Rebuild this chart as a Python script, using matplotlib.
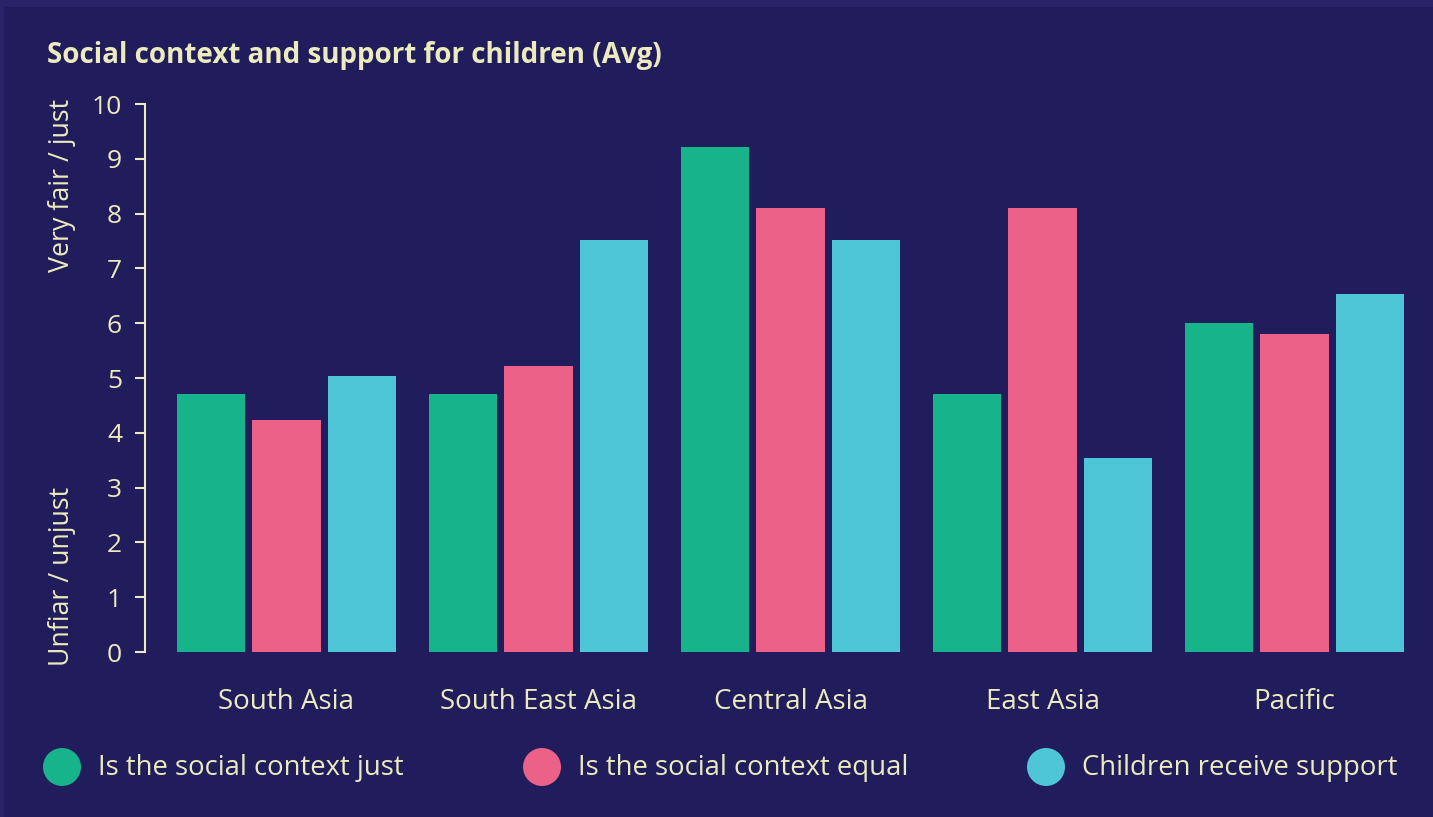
import numpy as np
import matplotlib
matplotlib.use("Agg")
import matplotlib.pyplot as plt
from matplotlib.patches import Rectangle, Ellipse

# data
regions = ["South Asia", "South East Asia", "Central Asia", "East Asia", "Pacific"]
social_just = [4.7, 4.7, 9.22, 4.7, 6.0]
social_equal = [4.23, 5.22, 8.1, 8.1, 5.8]
child_support = [5.04, 7.52, 7.52, 3.54, 6.53]
series_names = ["Is the social context just", "Is the social context equal", "Children receive support"]
y_ticks = list(range(0, 11))

bg = "#211c5c"
frame = "#29246a"
txt = "#ecebbd"
colors = ["#17b48c", "#ec6188", "#4fc6d8"]

plt.rcParams["font.family"] = ["Open Sans", "DejaVu Sans"]

W, H = 1433, 817
fig = plt.figure(figsize=(W / 100, H / 100), dpi=100)
fig.patch.set_facecolor(frame)
# inner panel, lighter frame visible on top / left edges
fig.add_artist(Rectangle((4 / W, 0), 1, 1 - 7 / H, transform=fig.transFigure,
                         facecolor=bg, edgecolor="none", zorder=0))

ax = fig.add_axes([145 / W, 1 - 652 / H, (1420 - 145) / W, (652 - 104) / H])
ax.patch.set_alpha(0)

x = np.arange(len(regions))
bw = 0.27
off = 0.3
for i, (vals, c) in enumerate(zip([social_just, social_equal, child_support], colors)):
    ax.bar(x + (i - 1) * off, vals, width=bw, color=c, zorder=2)

ax.set_ylim(0, 10)
ax.set_xlim(-0.5615, 4.498)
ax.set_yticks(y_ticks)
ax.set_yticklabels([str(t) for t in y_ticks], fontsize=19, color=txt)
ax.tick_params(axis="y", colors=txt, length=7.5, width=1.5, pad=9, labelcolor=txt)
ax.set_xticks(x)
ax.set_xticklabels(regions, fontsize=20, color=txt)
ax.tick_params(axis="x", length=0, pad=26)
for s in ["top", "right", "bottom"]:
    ax.spines[s].set_visible(False)
ax.spines["left"].set_color(txt)
ax.spines["left"].set_linewidth(1.5)

fig.text(47 / W, 1 - 56 / H, "Social context and support for children (Avg)",
         fontsize=20, fontweight="bold", color=txt, va="center", ha="left")
fig.text(62 / W, 1 - 185 / H, "Very fair / just", rotation=90, fontsize=19.3,
         color=txt, va="center", ha="center")
fig.text(62 / W, 1 - 576 / H, "Unfiar / unjust", rotation=90, fontsize=19.3,
         color=txt, va="center", ha="center")

# legend drawn manually to match the spread layout
leg_x = [62, 542, 1046]
r = 19
for lx, c, name in zip(leg_x, colors, series_names):
    fig.add_artist(Ellipse((lx / W, 1 - 767 / H), 2 * r / W, 2 * r / H,
                           transform=fig.transFigure, facecolor=c, edgecolor="none"))
    fig.text((lx + 36) / W, 1 - 768 / H, name, fontsize=19.8, color=txt,
             va="center", ha="left")

fig.savefig("out.png", dpi=100, facecolor=fig.get_facecolor())
